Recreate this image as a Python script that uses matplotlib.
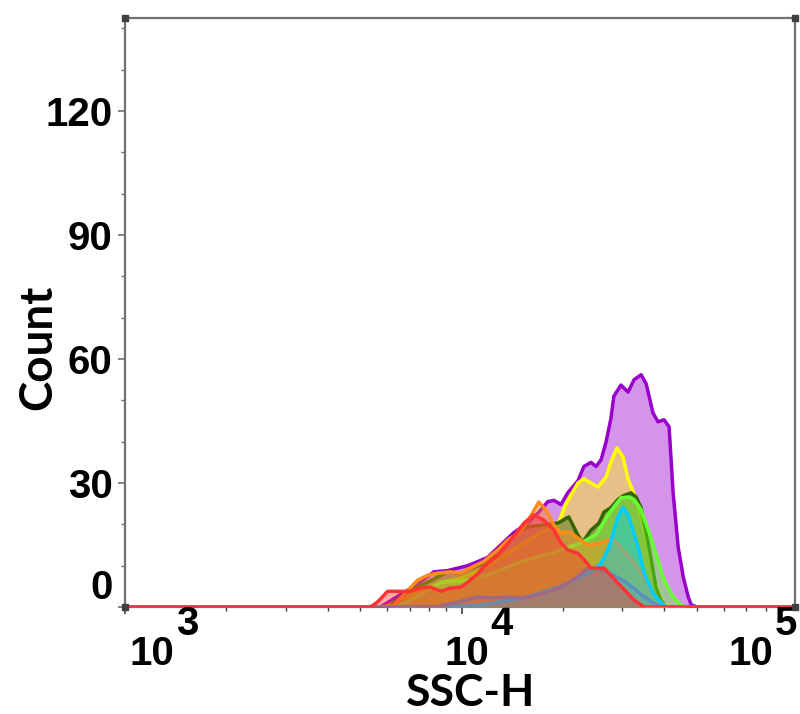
"""
SSC-H overlay histogram (flow cytometry style), 8 samples, log x axis.
"""
import numpy as np
import matplotlib
matplotlib.use("Agg")
import matplotlib.pyplot as plt
from matplotlib.ticker import LogLocator, MultipleLocator, NullFormatter

# ── Data: log10(SSC-H) positions and counts per sample ──────────────────────
purple_L = [3.0, 3.759, 3.818, 3.878, 3.917, 3.958, 4.018, 4.048, 4.077, 4.116,
            4.155, 4.196, 4.226, 4.256, 4.274, 4.295, 4.315, 4.345, 4.363, 4.384,
            4.399, 4.414, 4.429, 4.443, 4.452, 4.473, 4.494, 4.512, 4.533, 4.548,
            4.568, 4.583, 4.601, 4.616, 4.628, 4.643, 4.658, 4.673, 4.682, 4.70, 5.0]
purple_C = [0, 0, 3, 6, 8.5, 8.8, 10, 11, 12, 15,
            18, 20.3, 22.7, 25.5, 25.8, 24.8, 27.6, 30.5, 34, 35,
            34, 35.6, 40, 45.5, 51, 53.7, 52, 55, 56.2, 54,
            47, 44.8, 45.3, 43.6, 27.6, 14.5, 7.3, 2.4, 0.5, 0, 0]

yellow_L = [3.0, 3.774, 3.818, 3.878, 3.938, 3.997, 4.057, 4.116, 4.176, 4.235,
            4.286, 4.310, 4.345, 4.363, 4.384, 4.405, 4.429, 4.443, 4.461, 4.479,
            4.494, 4.509, 4.533, 4.557, 4.577, 4.598, 4.616, 5.0]
yellow_C = [0, 0, 2, 4, 6, 7, 9, 12, 15, 18,
            20, 25, 30, 31, 30, 29, 31.5, 35, 38.5, 36.3,
            31, 28, 22, 13, 5, 1, 0, 0]

dkgreen_L = [3.0, 3.774, 3.789, 3.848, 3.899, 3.958, 3.997, 4.027, 4.057, 4.101,
             4.155, 4.196, 4.235, 4.286, 4.318, 4.345, 4.360, 4.384, 4.408, 4.423,
             4.443, 4.464, 4.482, 4.503, 4.518, 4.533, 4.548, 4.563, 4.577, 4.592,
             4.607, 5.0]
dkgreen_C = [0, 0, 0.5, 4, 6, 8.5, 8.2, 9.4, 10.2, 13,
             17.4, 19.4, 19.8, 20.3, 21.8, 17.4, 15.7, 18.6, 20.3, 23,
             24, 26, 27, 27.6, 26.6, 24, 18, 11.4, 4.8, 1.7,
             0, 0]

ltgreen_L = [3.0, 3.80, 3.818, 3.878, 3.938, 4.027, 4.116, 4.176, 4.265, 4.354,
             4.399, 4.438, 4.473, 4.494, 4.512, 4.533, 4.557, 4.583, 4.601, 4.628,
             4.652, 4.667, 5.0]
ltgreen_C = [0, 0, 0.5, 3, 6, 6.5, 9, 11, 13, 15.5,
             17.5, 22.7, 26.4, 26.6, 26, 23.5, 18, 11.4, 6.5, 2.4,
             0.5, 0, 0]

steel_L = [3.0, 3.923, 3.988, 4.048, 4.095, 4.137, 4.185, 4.244, 4.295, 4.345,
           4.375, 4.405, 4.443, 4.488, 4.533, 4.568, 4.592, 5.0]
steel_C = [0, 0, 1.2, 2.4, 2.2, 2.4, 2.2, 3.4, 4.8, 7.3,
           9.4, 9.4, 8, 6, 3, 1, 0, 0]

orange_L = [3.0, 3.759, 3.798, 3.827, 3.869, 3.899, 3.929, 3.967, 3.997, 4.027,
            4.065, 4.107, 4.137, 4.176, 4.205, 4.229, 4.250, 4.274, 4.295, 4.318,
            4.345, 4.375, 4.414, 4.449, 4.488, 4.518, 4.542, 4.568, 4.592, 4.610, 5.0]
orange_C = [0, 0, 0.5, 2.9, 6.5, 7.7, 8.2, 8.5, 8.2, 9.5,
            11, 13.8, 16.2, 18.3, 22, 25.4, 23.5, 19.8, 17.9, 18.2,
            16.7, 15, 15.5, 16.5, 13, 10, 7, 3.5, 1, 0, 0]

cyan_L = [3.0, 3.938, 4.057, 4.176, 4.295, 4.384, 4.414, 4.438, 4.464, 4.479,
          4.497, 4.524, 4.542, 4.568, 4.592, 4.610, 5.0]
cyan_C = [0, 0, 0.5, 2, 5, 8.5, 10.6, 14.5, 21.8, 24.2,
          21.8, 14.5, 8.2, 3.4, 1, 0, 0]

red_L = [3.0, 3.729, 3.750, 3.780, 3.848, 3.878, 3.908, 3.938, 3.967, 3.997,
         4.018, 4.048, 4.065, 4.107, 4.146, 4.185, 4.214, 4.244, 4.274, 4.295,
         4.315, 4.345, 4.363, 4.384, 4.423, 4.464, 4.512, 4.542, 5.0]
red_C = [0, 0, 1.2, 3.8, 3.8, 4.6, 4.8, 3.8, 4.6, 4.8,
         6, 8, 9.7, 12.5, 16.2, 20.3, 22.3, 21, 18.6, 15.5,
         13.8, 13, 11.5, 9.4, 9.4, 5.8, 1.7, 0, 0]

# drawing order = back to front; last value = z of the outline
series = [
    (purple_L, purple_C, "#9900CC", 2),
    (yellow_L, yellow_C, "#FFFF00", 3),
    (dkgreen_L, dkgreen_C, "#336600", 4),
    (ltgreen_L, ltgreen_C, "#66FF33", 5),
    (steel_L, steel_C, "#5B8FBF", 8.5),   # outline stays visible over orange
    (orange_L, orange_C, "#FF8C1A", 7),
    (cyan_L, cyan_C, "#00CCFF", 8),
    (red_L, red_C, "#FF3333", 9),
]

y_ticks = [0, 30, 60, 90, 120]
x_decades = [3, 4, 5]

TICK_FONT = ["Liberation Sans", "DejaVu Sans"]
LABEL_FONT = ["Lato", "DejaVu Sans"]

# ── Plot ─────────────────────────────────────────────────────────────────────
fig = plt.figure(figsize=(8, 7.14), dpi=100)
ax = fig.add_axes([125/800, 107/714, 670/800, 589/714])

for i, (L, C, col, zl) in enumerate(series):
    x = 10.0 ** np.array(L)
    ax.fill_between(x, C, 0, color=col, alpha=0.42, lw=0, zorder=2 + i)
    ax.plot(x, C, color=col, lw=2.5, zorder=zl, solid_joinstyle="round")

ax.set_xscale("log")
ax.set_xlim(1e3, 10 ** 4.99)
ax.set_ylim(0, 142.5)

for s in ax.spines.values():
    s.set_color("#707070")
    s.set_linewidth(1.6)

# corner squares
ax.plot([0, 0, 1, 1], [0, 1, 0, 1], "s", ms=4.5, color="#404040",
        transform=ax.transAxes, clip_on=False, zorder=30)

# y ticks
ax.set_yticks(y_ticks)
ax.yaxis.set_minor_locator(MultipleLocator(10))
ax.set_yticklabels([""] + [str(v) for v in y_ticks[1:]])
ax.tick_params(axis="y", which="major", direction="out", length=5, width=1.2,
               color="#707070", pad=4)
ax.tick_params(axis="y", which="minor", direction="out", length=3, width=1.0,
               color="#707070")
for lab in ax.get_yticklabels():
    lab.set_fontfamily(TICK_FONT)
    lab.set_fontweight("bold")
    lab.set_fontsize(29)
# "0" label sits above its tick
ax.annotate("0", xy=(0, 0), xycoords=("axes fraction", "data"),
            xytext=(-12, 19), textcoords="offset pixels", ha="right", va="center",
            fontsize=29, fontweight="bold", family=TICK_FONT)

# x ticks
ax.xaxis.set_major_locator(LogLocator(base=10, numticks=10))
ax.xaxis.set_minor_locator(LogLocator(base=10, subs=np.arange(2, 10), numticks=10))
ax.xaxis.set_major_formatter(NullFormatter())
ax.xaxis.set_minor_formatter(NullFormatter())
ax.tick_params(axis="x", which="major", direction="out", length=5, width=1.2,
               color="#404040")
ax.tick_params(axis="x", which="minor", direction="out", length=3, width=1.0,
               color="#404040")

# custom "10^n" labels
base_dx = {3: 27, 4: 5, 5: -47}
for d in x_decades:
    ax.annotate("10", xy=(10.0 ** d, 0), xycoords=("data", "axes fraction"),
                xytext=(base_dx[d], -47), textcoords="offset pixels",
                ha="center", va="center", fontsize=29, fontweight="bold",
                family=TICK_FONT, annotation_clip=False)
    ax.annotate(str(d), xy=(10.0 ** d, 0), xycoords=("data", "axes fraction"),
                xytext=(base_dx[d] + 35, -17), textcoords="offset pixels",
                ha="center", va="center", fontsize=29, fontweight="bold",
                family=TICK_FONT, annotation_clip=False)

fig.text(38/800, 1 - 347/714, "Count", rotation=90, ha="center", va="center",
         fontsize=33, fontweight="bold", family=LABEL_FONT)
fig.text(471/800, 1 - 693/714, "SSC-H", ha="center", va="center",
         fontsize=32, fontweight="bold", family=LABEL_FONT)

fig.savefig("out.png", dpi=100)
